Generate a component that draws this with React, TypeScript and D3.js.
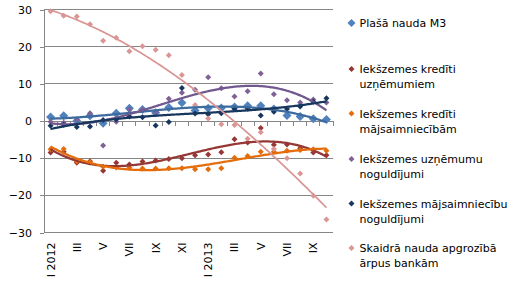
import { useEffect, useRef } from 'react';
import * as d3 from 'd3';

// Months Jan 2012 .. Oct 2013
const months = ['I 2012', 'II', 'III', 'IV', 'V', 'VI', 'VII', 'VIII', 'IX', 'X', 'XI', 'XII',
  'I 2013', 'II', 'III', 'IV', 'V', 'VI', 'VII', 'VIII', 'IX', 'X'];

const yTicks = [-30, -20, -10, 0, 10, 20, 30];

const m3 = [1.1, 1.4, 0, 1.4, -0.6, 2.1, 3.4, 3.1, 2.2, 3.6, 4.9, 2.8, 3.4, 3.5, 3.8, 4.1, 4.1, 3.2, 1.5, 1.2, 0.6, 0.4];
const creditCorp = [-8.5, -8.3, -11.2, -10.8, -13.4, -11.2, -11.7, -10.9, -10.6, -10.2, -10.0, -9.2, -9.0, -8.4, -4.9, -5.8, -1.9, -6.4, -6.3, -7.3, -8.5, -9.2];
const creditHh = [-7.6, -7.5, -10.9, -11.0, -12.3, -12.5, -12.6, -12.8, -12.8, -12.7, -12.7, -13.0, -13.0, -12.7, -9.9, -9.4, -8.3, -8.3, -8.0, -7.8, -7.6, -8.0];
const depoCorp = [-0.2, -0.5, 0.4, 2.1, -6.6, -0.2, 3.1, 3.0, 2.5, 6.0, 7.6, 8.4, 11.8, 8.8, 6.6, 8.0, 12.8, 7.2, 5.6, 5.0, 5.8, 5.0];
const depoHh = [-1.3, -1.0, -1.6, -1.5, 0.3, 0.4, 1.2, 1.0, -1.2, -0.3, 8.9, 2.0, 1.8, 2.1, 3.2, 3.3, 1.5, 2.5, 3.2, 3.9, 5.2, 6.1];
const cash = [29.5, 28.3, 28.1, 26.0, 21.6, 22.4, 18.8, 20.1, 19.2, 17.7, 12.4, 4.3, 0.7, -0.9, -1.1, -4.8, -3.0, -7.5, -10.0, -14.1, -20.1, -26.5];

interface Series {
  name: string[];
  values: number[];
  color: string;
  trend: string;
  size: number;
}

const series: Series[] = [
  { name: ['Plašā nauda M3'], values: m3, color: '#4f81bd', trend: '#3d6b9f', size: 4.5 },
  { name: ['Iekšzemes kredīti', 'uzņēmumiem'], values: creditCorp, color: '#953735', trend: '#953735', size: 3 },
  { name: ['Iekšzemes kredīti', 'mājsaimniecībām'], values: creditHh, color: '#e46c0a', trend: '#e46c0a', size: 3 },
  { name: ['Iekšzemes uzņēmumu', 'noguldījumi'], values: depoCorp, color: '#7f6195', trend: '#71588f', size: 3 },
  { name: ['Iekšzemes mājsaimniecību', 'noguldījumi'], values: depoHh, color: '#17375e', trend: '#17375e', size: 3 },
  { name: ['Skaidrā nauda  apgrozībā', 'ārpus bankām'], values: cash, color: '#d99694', trend: '#d99694', size: 3 },
];

// least squares polynomial (Excel-style trendline), x = 1..n
function polyfit(ys: number[], deg: number): number[] {
  const n = deg + 1;
  const A: number[][] = Array.from({ length: n }, () => new Array(n + 1).fill(0));
  ys.forEach((y, i) => {
    const x = i + 1;
    for (let r = 0; r < n; r++) {
      for (let c = 0; c < n; c++) A[r][c] += Math.pow(x, r + c);
      A[r][n] += y * Math.pow(x, r);
    }
  });
  for (let p = 0; p < n; p++) {
    let best = p;
    for (let r = p + 1; r < n; r++) if (Math.abs(A[r][p]) > Math.abs(A[best][p])) best = r;
    [A[p], A[best]] = [A[best], A[p]];
    for (let r = 0; r < n; r++) {
      if (r === p) continue;
      const f = A[r][p] / A[p][p];
      for (let c = p; c <= n; c++) A[r][c] -= f * A[p][c];
    }
  }
  return A.map((row, i) => row[n] / row[i]);
}

const diamond = (r: number) => `M0,${-r}L${r},0L0,${r}L${-r},0Z`;

export default function App() {
  const svgRef = useRef<SVGSVGElement>(null);

  useEffect(() => {
    if (!svgRef.current) return;
    const svg = d3.select(svgRef.current);
    svg.selectAll('*').remove();

    const font = '"DejaVu Sans", Verdana, sans-serif';
    const left = 44, right = 333, top = 9.5, bottom = 232.5;

    const x = d3.scaleBand<number>().domain(months.map((_, i) => i)).range([left, right]);
    const bw = x.bandwidth();
    const cx = (i: number) => (x(i) || 0) + bw / 2;
    const xt = d3.scaleLinear().domain([0, months.length - 1]).range([cx(0), cx(months.length - 1)]);
    const y = d3.scaleLinear().domain([-30, 30]).range([bottom, top]);

    // gridlines
    svg.append('g')
      .selectAll('line')
      .data(yTicks.filter(t => t !== 0))
      .enter()
      .append('line')
      .attr('x1', left).attr('x2', right)
      .attr('y1', d => y(d)).attr('y2', d => y(d))
      .attr('stroke', '#868686').attr('stroke-width', 1)
      .attr('shape-rendering', 'crispEdges');

    // y axis
    const yAxis = svg.append('g')
      .attr('transform', `translate(${left},0)`)
      .call(d3.axisLeft(y).tickValues(yTicks).tickSize(4).tickPadding(8).tickFormat(d3.format('d')));
    yAxis.selectAll('line, path').attr('stroke', '#868686').attr('shape-rendering', 'crispEdges');
    yAxis.select('.domain').attr('d', `M0,${top}V${bottom}`);
    yAxis.selectAll('text').attr('font-family', font).attr('font-size', 11).attr('fill', '#000');

    // category axis on the zero line, ticks between months
    const zero = y(0);
    svg.append('line')
      .attr('x1', left).attr('x2', right).attr('y1', zero).attr('y2', zero)
      .attr('stroke', '#868686').attr('shape-rendering', 'crispEdges');
    svg.append('g')
      .selectAll('line')
      .data(d3.range(months.length + 1))
      .enter()
      .append('line')
      .attr('x1', i => x.step() * i + left).attr('x2', i => x.step() * i + left)
      .attr('y1', zero).attr('y2', zero + 5)
      .attr('stroke', '#868686').attr('shape-rendering', 'crispEdges');

    // month labels at the bottom, rotated
    svg.append('g')
      .selectAll('text')
      .data(months.map((m, i) => ({ m, i })).filter(d => d.i % 2 === 0))
      .enter()
      .append('text')
      .attr('transform', d => `translate(${cx(d.i) + 4},${bottom + 10}) rotate(-90)`)
      .attr('text-anchor', 'end')
      .attr('font-family', font).attr('font-size', 11).attr('fill', '#000')
      .text(d => d.m);

    // markers
    series.forEach(s => {
      svg.append('g')
        .selectAll('path')
        .data(s.values)
        .enter()
        .append('path')
        .attr('d', diamond(s.size))
        .attr('transform', (v, i) => `translate(${cx(i)},${y(v)})`)
        .attr('fill', s.color);
    });

    // polynomial trendlines
    const line = d3.line<[number, number]>().x(d => xt(d[0])).y(d => y(d[1])).curve(d3.curveLinear);
    series.forEach(s => {
      const c = polyfit(s.values, 3);
      const pts: [number, number][] = d3.range(0, months.length - 1 + 0.001, 0.1).map(t => {
        const xv = t + 1;
        return [t, c.reduce((acc, k, p) => acc + k * Math.pow(xv, p), 0)];
      });
      svg.append('path')
        .attr('d', line(pts))
        .attr('fill', 'none')
        .attr('stroke', s.trend)
        .attr('stroke-width', s.color === '#d99694' ? 1.75 : 2.25);
    });

    // legend
    const rowY = [23, 69, 113.5, 159, 203.5, 248];
    const legend = svg.append('g');
    series.forEach((s, i) => {
      const g = legend.append('g').attr('transform', `translate(351.5,${rowY[i]})`);
      g.append('path').attr('d', diamond(s.size === 3 ? 3 : 4)).attr('fill', s.color);
      g.selectAll('text')
        .data(s.name)
        .enter()
        .append('text')
        .attr('x', 8)
        .attr('y', (_, k) => 4 + k * 15)
        .attr('font-family', font).attr('font-size', 11).attr('fill', '#000')
        .text(d => d);
    });
  }, []);

  return (
    <div style={{ position: 'fixed', left: 0, top: 0, width: 515, height: 287, background: '#fff' }}>
      <svg ref={svgRef} width={515} height={287}></svg>
    </div>
  );
}
